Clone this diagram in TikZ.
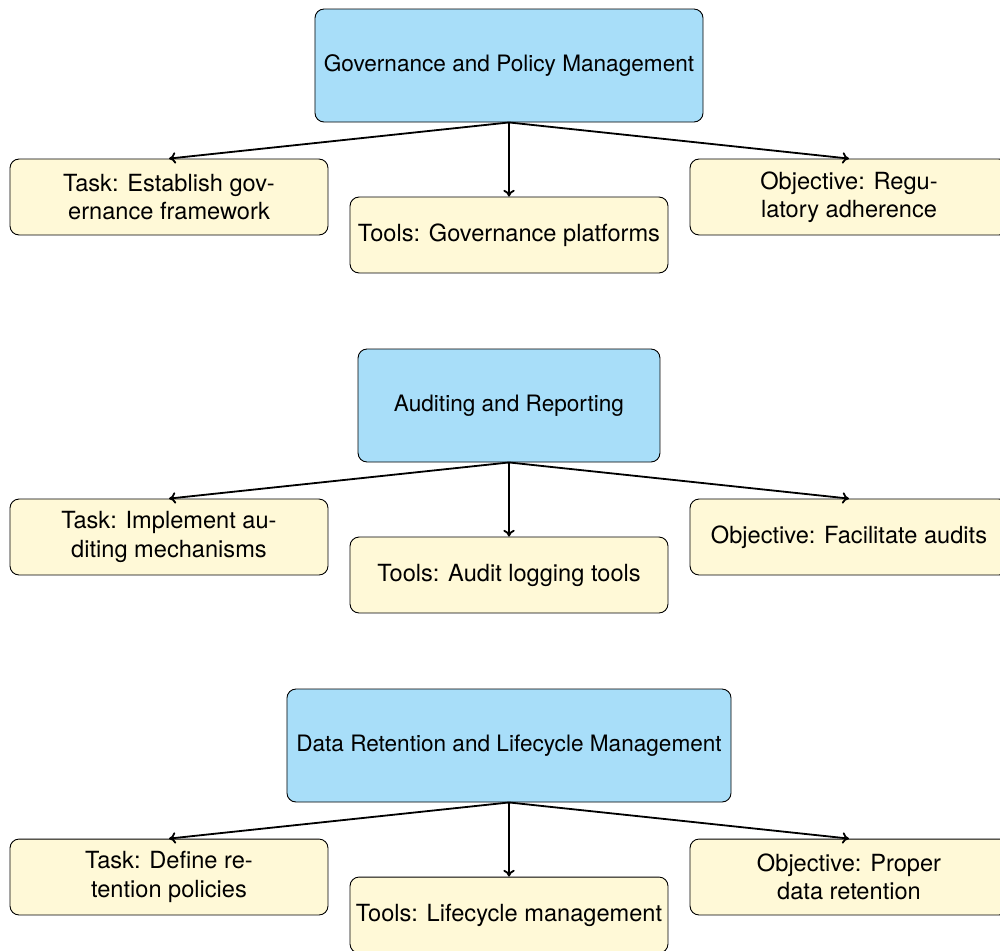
\documentclass[tikz,border=0pt]{standalone}
\usepackage{fontspec}
\setmainfont{TeX Gyre Heros}
\usetikzlibrary{arrows.meta}
\definecolor{rootblue}{RGB}{168,222,249}
\definecolor{childyellow}{RGB}{255,249,215}
\tikzset{
  rootbox/.style={draw, rounded corners=4pt, fill=rootblue, align=center,
    minimum height=50pt, inner sep=0pt, line width=0.4pt},
  childbox/.style={draw, rounded corners=4pt, fill=childyellow, align=center,
    minimum width=140.7pt, minimum height=33.6pt, inner sep=0pt, line width=0.4pt,
    font=\fontsize{10.45}{12.5}\selectfont},
  link/.style={-{To[length=3pt,width=5pt]}, thick}
}
\begin{document}
\begin{tikzpicture}[x=0.4425pt, y=-0.4425pt]
\useasboundingbox (0,0) rectangle (1000,950);
\clip (0,0) rectangle (1000,950);
% group 1
\node[rootbox, minimum width=171.7pt] (r1) at (509,65.5) {Governance and Policy Management};
\node[childbox] (t1) at (169,197) {Task: Establish gov-\\ernance framework};
\node[childbox] (m1) at (509,235) {Tools: Governance platforms};
\node[childbox] (o1) at (849,197) {Objective: Regu-\\latory adherence};
\draw[link] (r1.south) -- (t1.north);
\draw[link] (r1.south) -- (m1.north);
\draw[link] (r1.south) -- (o1.north);
% group 2
\node[rootbox, minimum width=133.6pt] (r2) at (509,405.5) {Auditing and Reporting};
\node[childbox] (t2) at (169,537) {Task: Implement au-\\diting mechanisms};
\node[childbox] (m2) at (509,575) {Tools: Audit logging tools};
\node[childbox] (o2) at (849,537) {Objective: Facilitate audits};
\draw[link] (r2.south) -- (t2.north);
\draw[link] (r2.south) -- (m2.north);
\draw[link] (r2.south) -- (o2.north);
% group 3
\node[rootbox, minimum width=196.5pt] (r3) at (509,745.5) {Data Retention and Lifecycle Management};
\node[childbox] (t3) at (169,877) {Task: Define re-\\tention policies};
\node[childbox] (m3) at (509,915) {Tools: Lifecycle management};
\node[childbox] (o3) at (849,877) {Objective: Proper\\data retention};
\draw[link] (r3.south) -- (t3.north);
\draw[link] (r3.south) -- (m3.north);
\draw[link] (r3.south) -- (o3.north);
\end{tikzpicture}
\end{document}
